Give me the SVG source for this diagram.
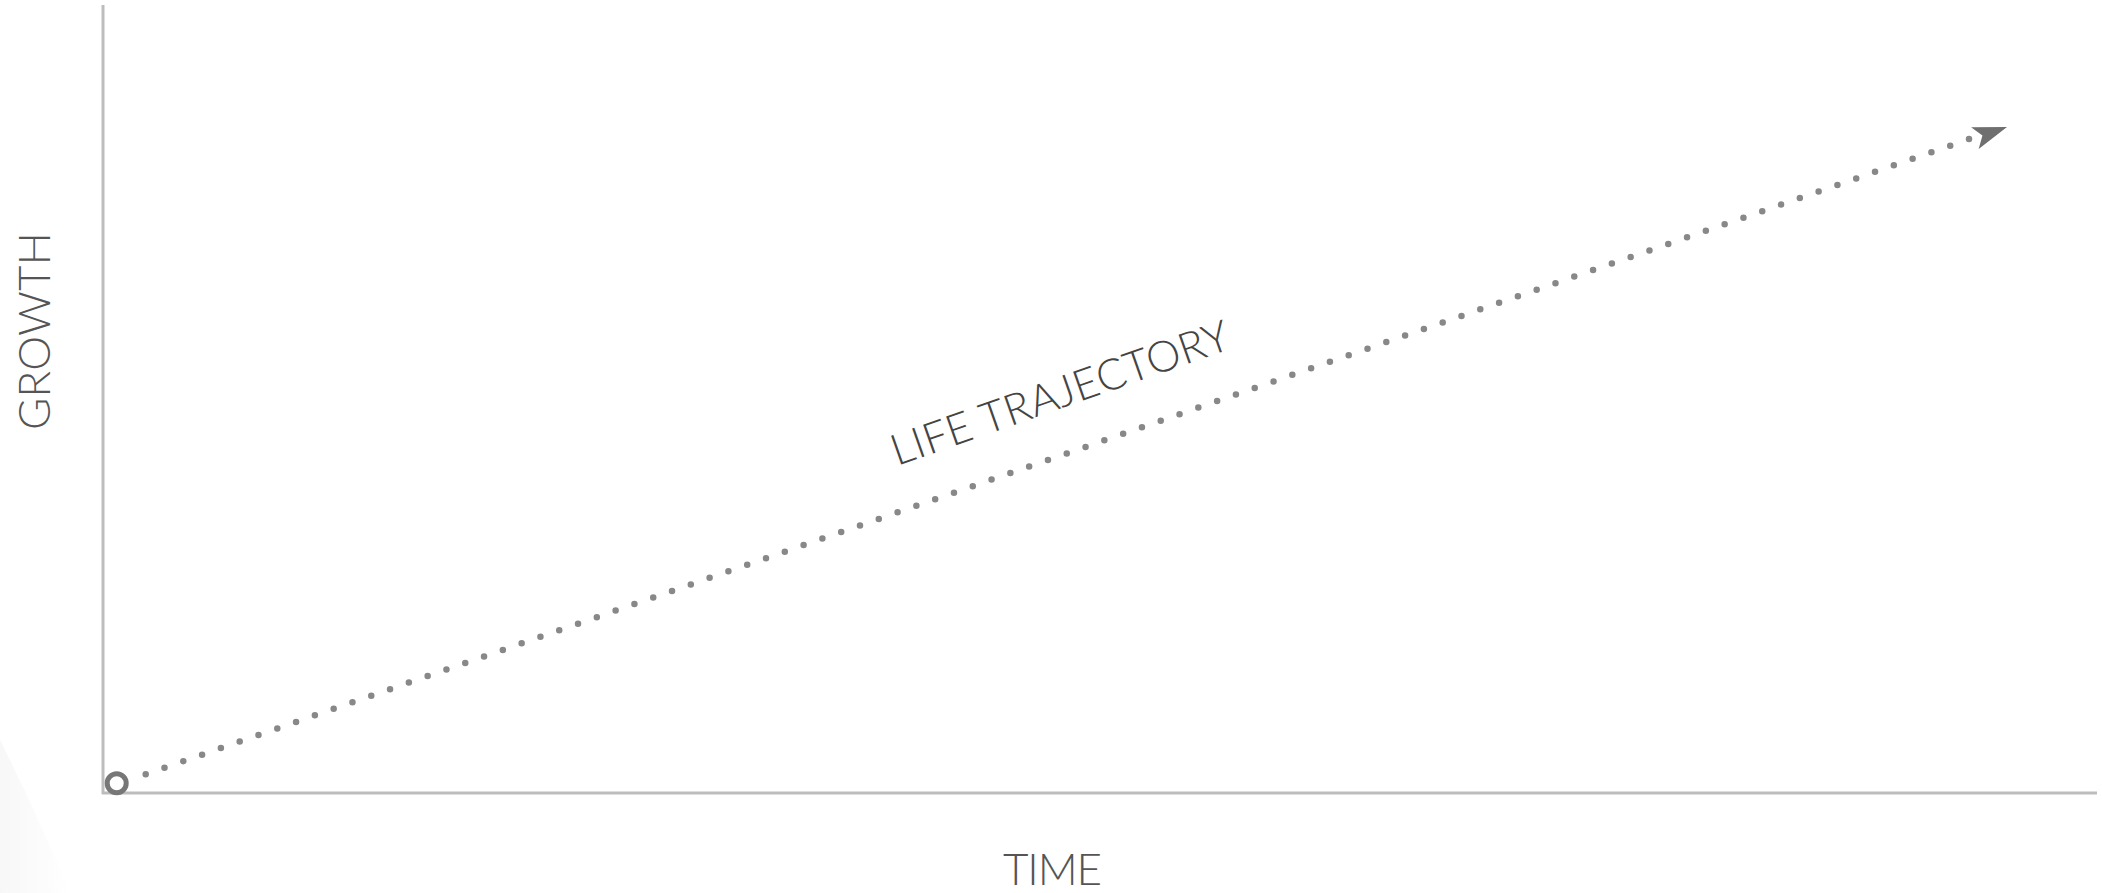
<svg xmlns="http://www.w3.org/2000/svg" width="2102" height="893" viewBox="0 0 2102 893">
<defs>
<style>
.axis{stroke:#bdbdbd;stroke-width:3;fill:none}
.lbl{font-family:Lato,"Open Sans","Liberation Sans",sans-serif;font-weight:300;fill:#555}
.traj{stroke:#888;stroke-width:6.5;stroke-linecap:round;fill:none}
</style>
<linearGradient id="bg" x1="0" y1="0" x2="1" y2="0">
<stop offset="0" stop-color="#f0f0f0"/>
<stop offset="1" stop-color="#f0f0f0" stop-opacity="0"/>
</linearGradient>
</defs>
<rect width="2102" height="893" fill="#fff"/>
<path d="M0,740 Q40,820 70,893 L0,893 Z" fill="url(#bg)" opacity="0.5"/>
<g id="axes">
<line class="axis" x1="103" y1="5" x2="103" y2="794"/>
<line class="axis" x1="102" y1="793" x2="2097" y2="793"/>
</g>
<g id="labels">
<text id="growth" class="lbl" font-size="44" text-anchor="middle" transform="translate(50,331) rotate(-90)" textLength="198">GROWTH</text>
<text id="time" class="lbl" font-size="44" text-anchor="middle" x="1052.5" y="885" textLength="99">TIME</text>
</g>
<g id="connectors">
<circle id="start" cx="116.7" cy="783.3" r="9.5" fill="none" stroke="#777" stroke-width="5"/>
<line class="traj" x1="145.7" y1="774.3" x2="1969.3" y2="139" stroke-dasharray="0 19.905"/>
<polygon id="arrowhead" fill="#6f6f6f" points="0,0 -34,-11.5 -26,0 -34,11.5" transform="translate(2007,127) rotate(-19.21)"/>
<text id="traj-label" class="lbl" style="fill:#444" font-size="43" text-anchor="middle" transform="translate(1065,407) rotate(-19.4)" textLength="356">LIFE TRAJECTORY</text>
</g>
</svg>
